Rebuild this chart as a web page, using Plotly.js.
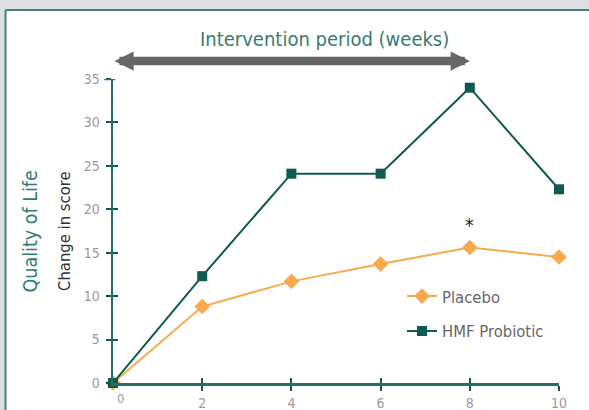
<!DOCTYPE html>
<html><head><meta charset="utf-8">
<script src="https://cdn.plot.ly/plotly-3.0.1.min.js"></script>
<style>html,body{margin:0;padding:0;background:#ffffff;overflow:hidden;}#chart{width:589px;height:410px;}</style>
</head><body><div id="chart"></div>
<script>
const weeks = [0, 2, 4, 6, 8, 10];
const placebo = [0, 8.8, 11.7, 13.7, 15.6, 14.5];
const probiotic = [0, 12.3, 24.1, 24.1, 34.0, 22.3];
const seriesNames = ['Placebo', 'HMF Probiotic'];
const xTicks = [2, 4, 6, 8, 10];
const yTicks = [0, 5, 10, 15, 20, 25, 30, 35];
const periodStart = 0, periodEnd = 8;
const sigWeek = 8;

const teal = '#0e5a50';
const orange = '#f8a94e';
const grey = '#dedfe0';
const font = 'DejaVu Sans Condensed, Roboto Condensed, Roboto, sans-serif';

const traces = [
  {x: weeks, y: placebo, name: seriesNames[0], mode: 'lines+markers', legend: 'legend',
   line: {color: orange, width: 2}, marker: {symbol: 'diamond', size: 12, color: orange}, cliponaxis: false},
  {x: weeks, y: probiotic, name: seriesNames[1], mode: 'lines+markers', legend: 'legend2',
   line: {color: teal, width: 2}, marker: {symbol: 'square', size: 10, color: teal}, cliponaxis: false}
];

const axisCommon = {showgrid: false, zeroline: false, showline: true, linecolor: '#2b6d65', linewidth: 2.5,
  ticks: 'outside', ticklen: 5, tickwidth: 2, tickcolor: teal,
  tickfont: {family: font, size: 14, color: '#9a9a9a'}, fixedrange: true};

const layout = {
  width: 589, height: 410,
  margin: {l: 113, r: 30, t: 79, b: 27},
  paper_bgcolor: '#ffffff', plot_bgcolor: 'rgba(0,0,0,0)',
  font: {family: font},
  xaxis: Object.assign({}, axisCommon, {range: [0, 10], tickvals: xTicks, ticklabelstandoff: 1}),
  yaxis: Object.assign({}, axisCommon, {range: [0, 35], tickvals: yTicks, ticklabelstandoff: 3}),
  xaxis2: {overlaying: 'x', range: [0, 10], tickvals: xTicks, ticks: 'inside', ticklen: 5, tickwidth: 2,
    tickcolor: teal, showticklabels: false, showgrid: false, zeroline: false, showline: false, fixedrange: true},
  yaxis2: {overlaying: 'y', range: [0, 35], tickvals: yTicks, ticks: 'inside', ticklen: 5, tickwidth: 2,
    tickcolor: teal, showticklabels: false, showgrid: false, zeroline: false, showline: false, fixedrange: true},
  showlegend: true,
  legend: {x: 0.648, y: 0.285, xanchor: 'left', yanchor: 'middle', bgcolor: 'rgba(0,0,0,0)',
    font: {family: font, size: 16.5, color: '#666'}, itemwidth: 30},
  legend2: {x: 0.648, y: 0.17, xanchor: 'left', yanchor: 'middle', bgcolor: 'rgba(0,0,0,0)',
    font: {family: font, size: 16.5, color: '#666'}, itemwidth: 30},
  shapes: [
    {type: 'rect', xref: 'paper', yref: 'paper', x0: -0.3, x1: 1.2, y0: 1.2270, y1: 1.3,
     fillcolor: grey, line: {width: 0}, layer: 'below'},
    {type: 'rect', xref: 'paper', yref: 'paper', x0: -0.3, x1: -0.2410, y0: -0.2, y1: 1.3,
     fillcolor: grey, line: {width: 0}, layer: 'below'},
    {type: 'line', xref: 'paper', yref: 'paper', x0: -0.2410, x1: 1.2, y0: 1.2270, y1: 1.2270,
     line: {color: '#3f8079', width: 2}, layer: 'below'},
    {type: 'line', xref: 'paper', yref: 'paper', x0: -0.2410, x1: -0.2410, y0: -0.2, y1: 1.2270,
     line: {color: '#3f8079', width: 2}, layer: 'below'},
    {type: 'line', xref: 'paper', yref: 'y', x0: -0.02, x1: 0.005, y0: 35, y1: 35,
     line: {color: '#1a72aa', width: 2.5}}
  ],
  annotations: [
    {text: 'Intervention period (weeks)', xref: 'paper', yref: 'paper', x: 0.475, y: 1.13,
     xanchor: 'center', yanchor: 'middle', showarrow: false,
     font: {family: font, size: 20, color: '#3a7b73'}},
    {text: '', xref: 'x', yref: 'paper', x: periodEnd, y: 1.059, ax: periodStart, ay: 1.059,
     axref: 'x', ayref: 'paper', showarrow: true, arrowside: 'end+start', arrowhead: 2,
     arrowsize: 0.45, arrowwidth: 8.5, arrowcolor: '#666666'},
    {text: 'Quality of Life', xref: 'paper', yref: 'paper', x: -0.185, y: 0.5, textangle: -90,
     showarrow: false, xanchor: 'center', yanchor: 'middle',
     font: {family: font, size: 19.5, color: '#2f7d73'}},
    {text: 'Change in score', xref: 'paper', yref: 'paper', x: -0.11, y: 0.5, textangle: -90,
     showarrow: false, xanchor: 'center', yanchor: 'middle',
     font: {family: font, size: 16.5, color: '#333'}},
    {text: '0', xref: 'x', yref: 'paper', x: 0, y: 0, xshift: 7, yshift: -6, yanchor: 'top', showarrow: false,
     font: {family: font, size: 13, color: '#9a9a9a'}},
    {text: '*', xref: 'x', yref: 'y', x: sigWeek, y: placebo[weeks.indexOf(sigWeek)], yshift: 23,
     showarrow: false, font: {family: font, size: 19, color: '#222'}}
  ]
};

const tr2 = {x: [0], y: [0], xaxis: 'x2', yaxis: 'y2', mode: 'markers', showlegend: false,
  marker: {opacity: 0}, hoverinfo: 'skip'};
Plotly.newPlot('chart', [tr2].concat(traces), layout, {staticPlot: true});
</script></body></html>
